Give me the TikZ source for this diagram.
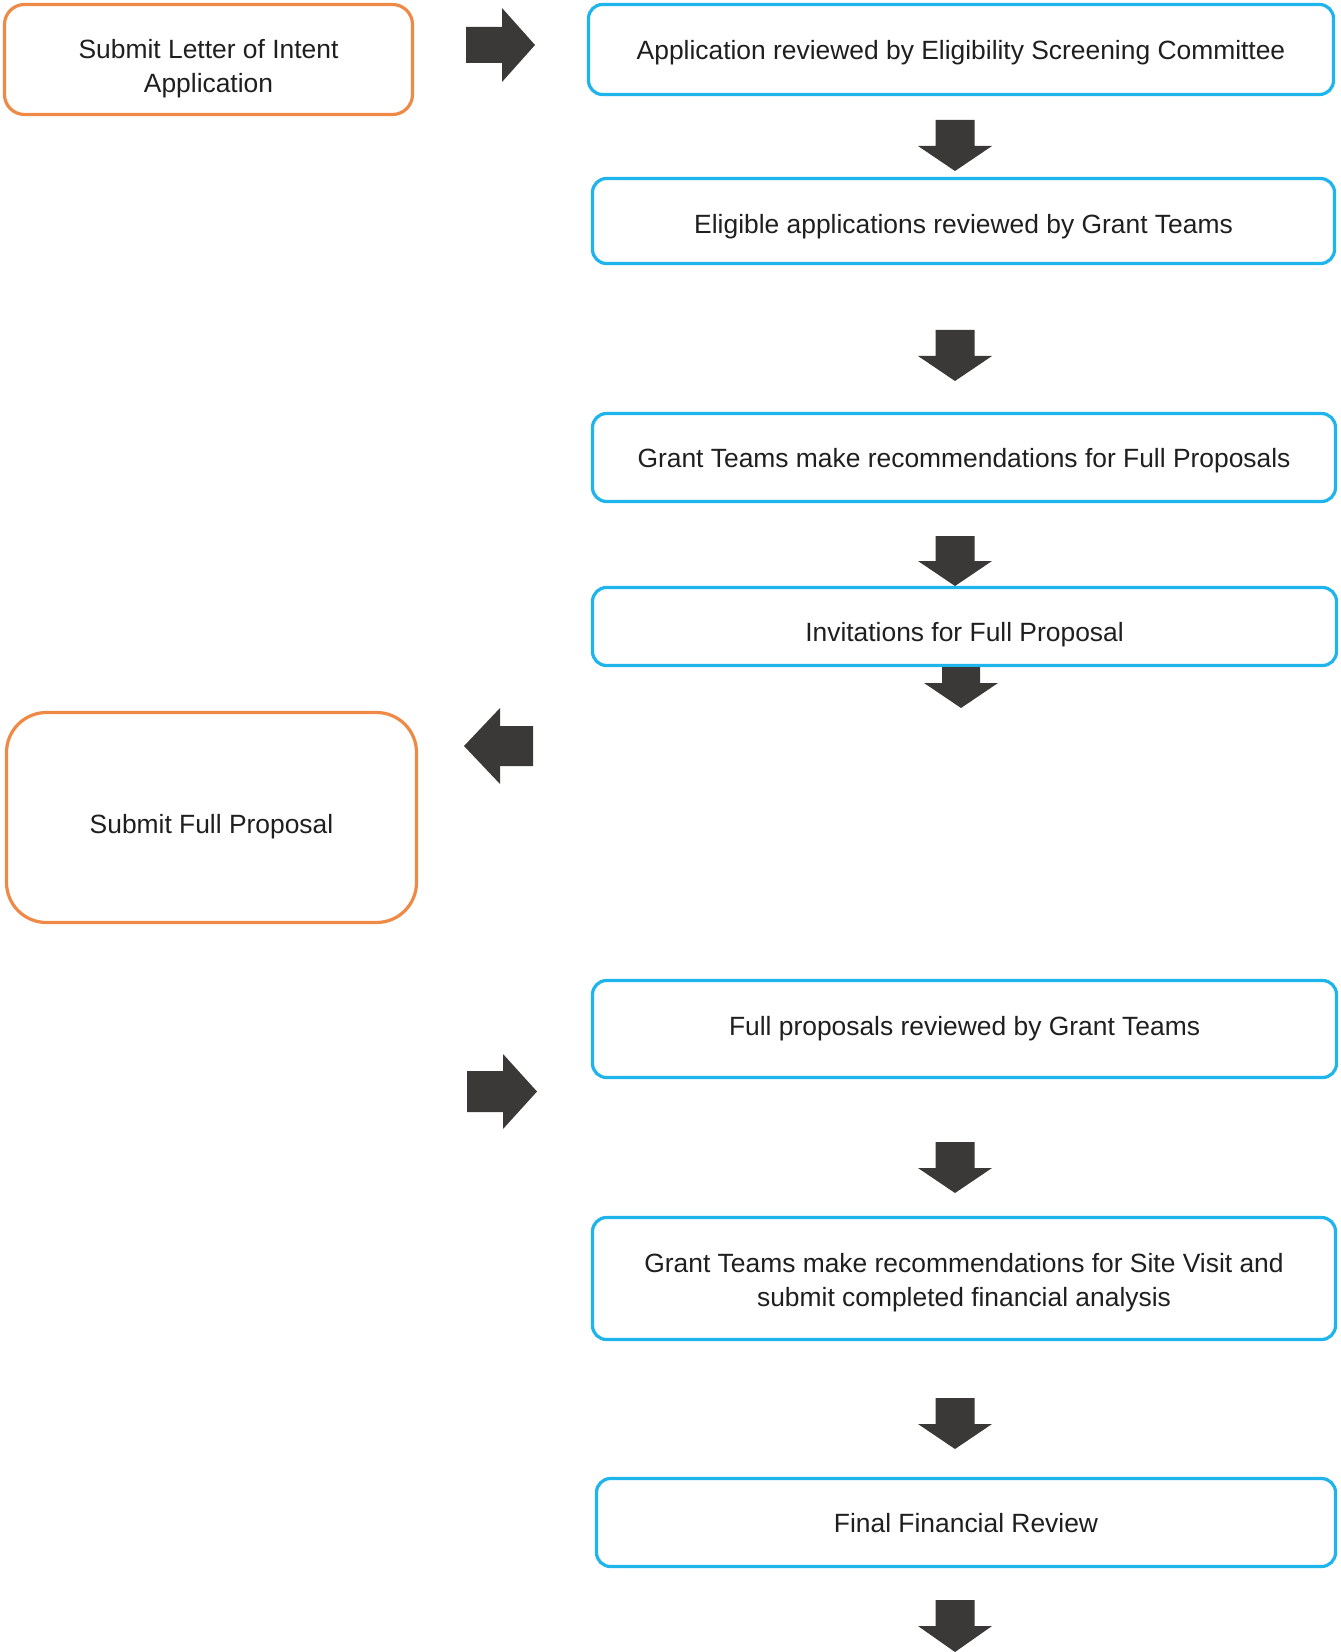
\documentclass[tikz,border=0pt]{standalone}
\usepackage{fontspec}
\setmainfont{Liberation Sans}
\definecolor{boxorange}{HTML}{EE8A45}
\definecolor{boxblue}{HTML}{1EB5EC}
\definecolor{arrowgray}{HTML}{3A3937}
\definecolor{txt}{HTML}{1F1F1F}
\newcommand\dn[2]{\raisebox{-#1}[\height][\depth]{#2}}
\tikzset{
  stepnode/.style={rectangle, draw, line width=1.6pt, fill=white, text=txt, align=center,
    font=\fontsize{13.2}{16.9}\selectfont, inner sep=0pt},
  bluebox/.style={stepnode, draw=boxblue, rounded corners=7pt},
  orangebox/.style={stepnode, draw=boxorange, rounded corners=10pt},
  pics/barrow/.style n args={4}{code={%
    \fill[arrowgray] (0,-#4) -- (#2,-#4) -- (#2,-#3) -- (#1,0) -- (#2,#3) -- (#2,#4) -- (0,#4) -- cycle;}},
}
\begin{document}
\begin{tikzpicture}[x=0.5pt,y=-0.5pt]
\useasboundingbox (0,0) rectangle (1340,1652);
\fill[white] (0,0) rectangle (1340,1652);

% left column (applicant)
\node[orangebox, minimum width=204pt, minimum height=55pt] (loi) at (208.5,59.5)
  {\dn{4.7pt}{Submit Letter of Intent}\\\dn{4.7pt}{Application}};
\node[orangebox, rounded corners=20pt, minimum width=205pt, minimum height=105pt] (sfp) at (211.5,817.5)
  {\dn{4.7pt}{Submit Full Proposal}};

% right column (review)
\node[bluebox, minimum width=372.5pt, minimum height=45pt] (esc) at (961,49.5)
  {\dn{1.6pt}{Application reviewed by Eligibility Screening Committee}};
\node[bluebox, minimum width=371pt, minimum height=42.5pt] (egt) at (963.5,221)
  {\dn{2.6pt}{Eligible applications reviewed by Grant Teams}};
\node[bluebox, minimum width=371.5pt, minimum height=44pt] (rec) at (964,457.5)
  {\dn{1.6pt}{Grant Teams make recommendations for Full Proposals}};
\node[bluebox, minimum width=372pt, minimum height=39pt] (inv) at (964.5,626.5)
  {\dn{4.2pt}{Invitations for Full Proposal}};
\node[bluebox, minimum width=372pt, minimum height=48.5pt] (fpr) at (964.5,1029)
  {Full proposals reviewed by Grant Teams};
\node[bluebox, minimum width=371.5pt, minimum height=61pt] (site) at (964,1278.5)
  {\dn{2.1pt}{Grant Teams make recommendations for Site Visit and}\\\dn{2.1pt}{submit completed financial analysis}};
\node[bluebox, minimum width=369.5pt, minimum height=44pt] (ffr) at (966,1522.5)
  {\dn{0.5pt}{Final Financial Review}};

% block arrows
\pic at (466,45) {barrow={69}{36}{37}{18}};
\pic[rotate=180] at (533,746) {barrow={69}{33}{38}{20}};
\pic at (467,1091.5) {barrow={70}{36}{37.5}{20.5}};

\pic[rotate=-90] at (955,120) {barrow={51}{26}{37}{19.5}};
\pic[rotate=-90] at (955,330) {barrow={51}{26}{37}{19.5}};
\pic[rotate=-90] at (955,536) {barrow={50}{25}{37}{19.5}};
\pic[rotate=-90] at (961,667) {barrow={41}{16}{37}{19}};
\pic[rotate=-90] at (955,1142) {barrow={51}{26}{37}{19.5}};
\pic[rotate=-90] at (955,1398) {barrow={51}{26}{37}{19.5}};
\pic[rotate=-90] at (955,1600) {barrow={52}{26}{37}{19.5}};
\end{tikzpicture}
\end{document}
